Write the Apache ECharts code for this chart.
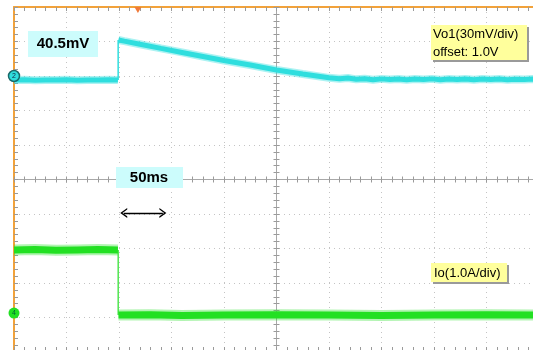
<!DOCTYPE html>
<html>
<head>
<meta charset="utf-8">
<script src="https://cdn.jsdelivr.net/npm/echarts@6.0.0/dist/echarts.min.js"></script>
<style>
  html, body { margin: 0; padding: 0; background: #fff; }
  #main { width: 533px; height: 350px; }
</style>
</head>
<body>
<div id="main"></div>
<script>
// 50 ms/div, 10 divisions across; vertical in divisions (-5 .. 5)
const vo1Time = [0, 10, 20, 30, 40, 50, 60, 70, 80, 90, 99, 99.5, 105, 120, 140, 160, 180, 200, 225, 250, 275, 300,
  310, 318, 326, 334, 342, 350, 358, 366, 374, 382, 390, 398, 406, 414, 422, 430, 438, 446, 454, 462, 470, 478, 486, 494, 500];
const vo1mV = [-3.5, -3.3, -3.6, -3.4, -3.5, -3.2, -3.6, -3.4, -3.5, -3.3, -3.5, 31.3, 30.3, 27.6, 24.0, 20.5, 17.0, 13.5, 9.5, 5.2, 1.7, -1.6,
  -2.3, -1.8, -2.9, -2.4, -3.2, -2.5, -3.1, -2.6, -3.3, -2.7, -3.1, -2.5, -3.2, -2.7, -3.0, -2.6, -3.3, -2.7, -3.1, -2.6, -3.2, -2.8, -3.0, -2.7, -3.0];

const ioTime = [0, 20, 40, 60, 80, 99, 99.5, 130, 160, 200, 250, 300, 350, 400, 450, 500];
const ioA = [1.83, 1.84, 1.82, 1.83, 1.84, 1.83, -0.06, -0.05, -0.07, -0.06, -0.05, -0.06, -0.07, -0.06, -0.05, -0.06];

const STEP_T = 99.5;         // load step instant, ms
const VO1_SCALE = 30;        // mV/div
const VO1_OFFSET_DIV = 3.0;  // ground marker position
const IO_SCALE = 1.0;        // A/div
const IO_OFFSET_DIV = -3.87;

const vo1Data = vo1Time.map((t, i) => [t, VO1_OFFSET_DIV + vo1mV[i] / VO1_SCALE]);
const ioData = ioTime.map((t, i) => [t, IO_OFFSET_DIV + ioA[i] / IO_SCALE]);

// thick plateaus with a break at the step, thin vertical edge
function withGap(d) {
  const pre = d.filter(p => p[0] < STEP_T), post = d.filter(p => p[0] >= STEP_T);
  return pre.concat([[STEP_T - 0.2, '-']], post);
}
function edge(d) {
  const pre = d.filter(p => p[0] < STEP_T), post = d.filter(p => p[0] >= STEP_T);
  return [[STEP_T - 0.3, pre[pre.length - 1][1]], [STEP_T - 0.3, post[0][1]]];
}

const ORANGE = '#f2a23a';
const TICK = '#9a9a9a';
const CYAN = '#2fdede';
const GREEN = '#22e022';
const FONT = 'Liberation Sans, Arial, sans-serif';

function xAx(position, opt) {
  return Object.assign({
    type: 'value', min: 0, max: 500, interval: 50, position: position,
    axisLabel: { show: false },
    splitLine: { show: false }
  }, opt);
}
function yAx(position, opt) {
  return Object.assign({
    type: 'value', min: -5, max: 5, interval: 1, position: position,
    axisLabel: { show: false },
    splitLine: { show: false }
  }, opt);
}
const tk = (inside, len) => ({ show: true, inside: inside, length: len, lineStyle: { color: TICK, width: 1 } });
const mtk = (len) => ({ show: true, splitNumber: 5, length: len, lineStyle: { color: TICK, width: 1 } });
const chevron = 'path://M0,8 L5,0 L10,8 L8.4,8 L5,2.6 L1.6,8 Z';

const myChart = echarts.init(document.getElementById('main'));
const option = {
  animation: false,
  backgroundColor: '#fff',
  grid: { left: 14, top: 7, width: 525, height: 345, outerBoundsMode: 'none' },
  xAxis: [
    // top border
    xAx('top', {
      axisLine: { onZero: false, lineStyle: { color: ORANGE, width: 2 } },
      axisTick: tk(true, 4), minorTick: mtk(4),
      splitLine: { show: true, lineStyle: { color: '#c4c4c4', width: 1, type: [1, 4] } }
    }),
    // center horizontal axis, ticks both sides
    xAx('top', { offset: -172.5, axisLine: { onZero: false, lineStyle: { color: '#a8a8a8', width: 1 } }, axisTick: tk(true, 3), minorTick: mtk(3) }),
    xAx('top', { offset: -172.5, axisLine: { show: false, onZero: false }, axisTick: tk(false, 3), minorTick: mtk(3) }),
    // bottom border
    xAx('bottom', { axisLine: { show: false, onZero: false }, axisTick: tk(true, 5), minorTick: mtk(5) })
  ],
  yAxis: [
    // left border
    yAx('left', {
      axisLine: { onZero: false, lineStyle: { color: ORANGE, width: 2 } },
      axisTick: tk(true, 4), minorTick: mtk(4),
      splitLine: { show: true, lineStyle: { color: '#c4c4c4', width: 1, type: [1, 4] } }
    }),
    // center vertical axis
    yAx('left', { offset: -262.5, axisLine: { onZero: false, lineStyle: { color: '#a8a8a8', width: 1 } }, axisTick: tk(true, 3), minorTick: mtk(3) }),
    yAx('left', { offset: -262.5, axisLine: { show: false, onZero: false }, axisTick: tk(false, 3), minorTick: mtk(3) })
  ],
  series: [
    {
      name: 'Vo1 halo', type: 'line', data: withGap(vo1Data), symbol: 'none', silent: true, z: 3,
      lineStyle: { color: CYAN, width: 8, opacity: 0.4, cap: 'butt' }
    },
    {
      name: 'Vo1', type: 'line', data: withGap(vo1Data), symbol: 'none', silent: true, z: 4,
      lineStyle: { color: CYAN, width: 5, cap: 'butt' },
      markPoint: {
        silent: true,
        data: [
          { coord: [0, VO1_OFFSET_DIV], symbol: 'circle', symbolSize: 11,
            itemStyle: { color: CYAN, borderColor: '#1a6a6a', borderWidth: 1.5 },
            label: { show: true, formatter: '2', fontSize: 7, color: '#124', position: 'inside' } },
          { coord: [118, 5], symbol: 'triangle', symbolRotate: 180, symbolSize: [7, 6], symbolOffset: [0, 3],
            itemStyle: { color: '#f07a3a' }, label: { show: false } }
        ]
      }
    },
    {
      name: 'Vo1 edge', type: 'line', data: edge(vo1Data), symbol: 'none', silent: true, z: 4,
      lineStyle: { color: CYAN, width: 1.5 }
    },
    {
      name: 'Io halo', type: 'line', data: withGap(ioData), symbol: 'none', silent: true, z: 3,
      lineStyle: { color: GREEN, width: 11, opacity: 0.35, cap: 'butt' }
    },
    {
      name: 'Io', type: 'line', data: withGap(ioData), symbol: 'none', silent: true, z: 4,
      lineStyle: { color: GREEN, width: 7, cap: 'butt' },
      markPoint: {
        silent: true,
        data: [
          { coord: [0, IO_OFFSET_DIV], symbol: 'circle', symbolSize: 11, itemStyle: { color: GREEN },
            label: { show: true, formatter: '4', fontSize: 7, color: '#063', position: 'inside' } }
        ]
      },
      markLine: {
        silent: true,
        symbol: [chevron, chevron],
        symbolSize: [10, 7],
        label: { show: false },
        lineStyle: { color: '#000', width: 1.3, type: 'solid' },
        data: [[{ coord: [104.5, -0.97] }, { coord: [141.8, -0.97] }]]
      }
    },
    {
      name: 'Io edge', type: 'line', data: edge(ioData), symbol: 'none', silent: true, z: 4,
      lineStyle: { color: GREEN, width: 1.2 }
    }
  ],
  graphic: [
    { type: 'rect', shape: { x: 28, y: 31, width: 70, height: 26 }, style: { fill: '#ccfcfc' }, z: 10 },
    { type: 'text', x: 63, y: 44, style: { text: '40.5mV', font: 'bold 15px ' + FONT, fill: '#000', align: 'center', verticalAlign: 'middle' }, z: 11 },
    { type: 'rect', shape: { x: 116, y: 167, width: 67, height: 21 }, style: { fill: '#ccfcfc' }, z: 10 },
    { type: 'text', x: 149, y: 177.5, style: { text: '50ms', font: 'bold 15px ' + FONT, fill: '#000', align: 'center', verticalAlign: 'middle' }, z: 11 },

    { type: 'rect', shape: { x: 433, y: 27, width: 96, height: 35 }, style: { fill: '#9a9a9a' }, z: 10 },
    { type: 'rect', shape: { x: 431, y: 25, width: 96, height: 35 }, style: { fill: '#ffff9c' }, z: 10 },
    { type: 'text', x: 433, y: 34, style: { text: 'Vo1(30mV/div)', font: '13px ' + FONT, fill: '#000', align: 'left', verticalAlign: 'middle' }, z: 11 },
    { type: 'text', x: 433, y: 52, style: { text: 'offset: 1.0V', font: '13px ' + FONT, fill: '#000', align: 'left', verticalAlign: 'middle' }, z: 11 },

    { type: 'rect', shape: { x: 433, y: 265, width: 76, height: 19 }, style: { fill: '#9a9a9a' }, z: 10 },
    { type: 'rect', shape: { x: 431, y: 263, width: 76, height: 19 }, style: { fill: '#ffff9c' }, z: 10 },
    { type: 'text', x: 434, y: 273, style: { text: 'Io(1.0A/div)', font: '13px ' + FONT, fill: '#000', align: 'left', verticalAlign: 'middle' }, z: 11 }
  ]
};
myChart.setOption(option);
</script>
</body>
</html>
